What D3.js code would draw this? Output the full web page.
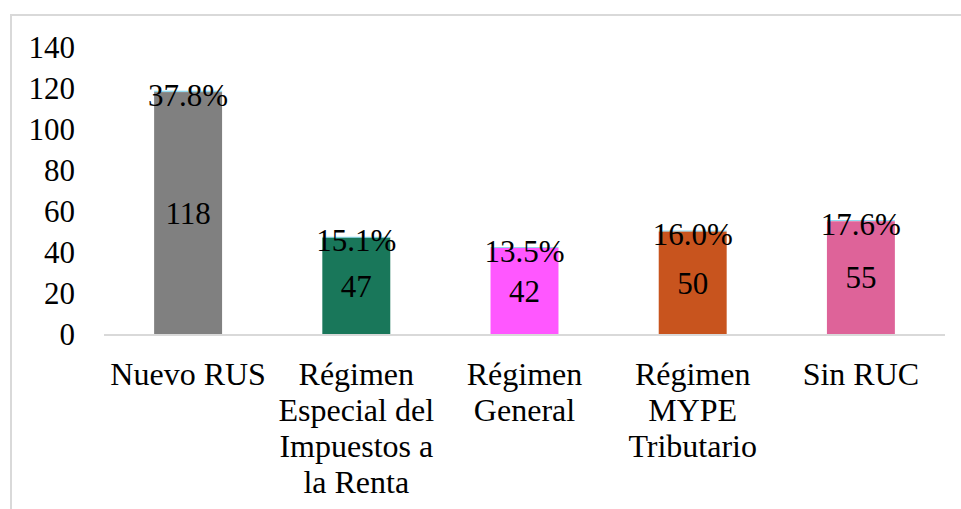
<!DOCTYPE html>
<html>
<head>
<meta charset="utf-8">
<script src="https://cdn.jsdelivr.net/npm/d3@7/dist/d3.min.js"></script>
<style>
  body { margin: 0; background: #fff; }
</style>
</head>
<body>
<svg width="961" height="509"></svg>
<script>
// data
const categories = ['Nuevo RUS', 'Régimen Especial del Impuestos a la Renta',
  'Régimen General', 'Régimen MYPE Tributario', 'Sin RUC'];
const categoryLines = [
  ['Nuevo RUS'],
  ['Régimen', 'Especial del', 'Impuestos a', 'la Renta'],
  ['Régimen', 'General'],
  ['Régimen', 'MYPE', 'Tributario'],
  ['Sin RUC']
];
const counts = [118, 47, 42, 50, 55];
const shares = [0.378, 0.151, 0.135, 0.160, 0.176];
const barColors = ['#808080', '#19775a', '#ff57ff', '#c8541e', '#de6399'];
const yTicks = [0, 20, 40, 60, 80, 100, 120, 140];

const fontFamily = "'Liberation Serif', serif";

const svg = d3.select('svg'),
    width = +svg.attr('width'),
    height = +svg.attr('height');

// chart frame (only top and left visible)
svg.append('line')
  .attr('x1', 10).attr('x2', width).attr('y1', 15).attr('y2', 15)
  .attr('stroke', '#d9d9d9').attr('stroke-width', 2);
svg.append('line')
  .attr('x1', 11).attr('x2', 11).attr('y1', 14).attr('y2', height)
  .attr('stroke', '#d9d9d9').attr('stroke-width', 2);

const x = d3.scaleBand()
  .domain(categories)
  .range([104, 945])
  .paddingInner(0.596)
  .paddingOuter(0.298);

const y = d3.scaleLinear()
  .domain([0, 140])
  .range([334, 47]);

const rows = categories.map(function(c, i) {
  return {cat: c, count: counts[i], share: shares[i], color: barColors[i], lines: categoryLines[i]};
});

function label(size) {
  return function(sel) {
    sel.style('font-family', fontFamily)
      .style('font-size', size + 'px')
      .attr('fill', '#000');
  };
}

// y axis labels
svg.append('g').selectAll('text')
  .data(yTicks)
  .enter().append('text')
  .attr('x', 75)
  .attr('y', function(d) { return y(d); })
  .attr('dy', '0.35em')
  .attr('text-anchor', 'end')
  .call(label(31))
  .text(function(d) { return d; });

// count bars
svg.append('g').selectAll('rect')
  .data(rows)
  .enter().append('rect')
  .attr('x', function(d) { return x(d.cat); })
  .attr('width', x.bandwidth())
  .attr('y', function(d) { return y(d.count); })
  .attr('height', function(d) { return y(0) - y(d.count); })
  .attr('fill', function(d) { return d.color; });

// stacked share segment (tiny, on top)
svg.append('g').selectAll('rect')
  .data(rows)
  .enter().append('rect')
  .attr('x', function(d) { return x(d.cat); })
  .attr('width', x.bandwidth())
  .attr('y', function(d) { return y(d.count + d.share) - 0.5; })
  .attr('height', function(d) { return Math.max(0.6, y(d.count) - y(d.count + d.share)); })
  .attr('fill', '#4cc3e6');

// x axis line
svg.append('line')
  .attr('x1', 104).attr('x2', 945)
  .attr('y1', y(0) + 1).attr('y2', y(0) + 1)
  .attr('stroke', '#d9d9d9').attr('stroke-width', 2);

// value labels
svg.append('g').selectAll('text')
  .data(rows)
  .enter().append('text')
  .attr('x', function(d) { return x(d.cat) + x.bandwidth() / 2; })
  .attr('y', function(d) { return y(d.count / 2); })
  .attr('dy', '0.35em')
  .attr('text-anchor', 'middle')
  .call(label(31))
  .text(function(d) { return d.count; });

svg.append('g').selectAll('text')
  .data(rows)
  .enter().append('text')
  .attr('x', function(d) { return x(d.cat) + x.bandwidth() / 2; })
  .attr('y', function(d) { return y(d.count + d.share / 2) + 3; })
  .attr('dy', '0.35em')
  .attr('text-anchor', 'middle')
  .call(label(31))
  .text(function(d) { return (d.share * 100).toFixed(1) + '%'; });

// category labels
const catLabel = svg.append('g').selectAll('text')
  .data(rows)
  .enter().append('text')
  .attr('text-anchor', 'middle')
  .call(label(32));

catLabel.selectAll('tspan')
  .data(function(d) {
    return d.lines.map(function(l) { return {cat: d.cat, line: l}; });
  })
  .enter().append('tspan')
  .attr('x', function(d) { return x(d.cat) + x.bandwidth() / 2; })
  .attr('y', function(d, i) { return 385 + i * 36; })
  .text(function(d) { return d.line; });
</script>
</body>
</html>
